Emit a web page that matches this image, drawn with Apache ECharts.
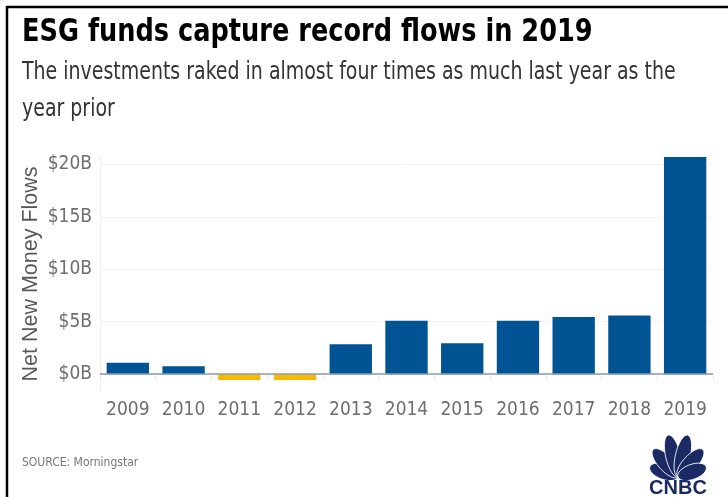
<!DOCTYPE html>
<html>
<head>
<meta charset="utf-8">
<script src="https://cdn.jsdelivr.net/npm/echarts@6/dist/echarts.min.js"></script>
<style>
html,body{margin:0;padding:0;background:#fff;}
#chart{width:728px;height:497px;}
</style>
</head>
<body>
<div id="chart"></div>
<script>
const categories = ['2009','2010','2011','2012','2013','2014','2015','2016','2017','2018','2019'];
const flowsB = [1.1, 0.75, -0.55, -0.55, 2.85, 5.1, 2.95, 5.1, 5.45, 5.6, 20.7];
const yTickValues = [0, 5, 10, 15, 20];
const titleText = 'ESG funds capture record flows in 2019';
const subtitleLines = ['The investments raked in almost four times as much last year as the', 'year prior'];
const yAxisName = 'Net New Money Flows';
const sourceText = 'SOURCE: Morningstar';
const logoText = 'CNBC';

const NARROW = "'DejaVu Sans Condensed', 'Liberation Sans Narrow', sans-serif";
const BLUE = '#015494';
const YELLOW = '#f6b800';
const NAVY = '#1c2a63';

const chart = echarts.init(document.getElementById('chart'));

// peacock feathers
const pivot = [678, 477];
const feathers = [
  {a: -70, len: 30}, {a: -42, len: 37}, {a: -13, len: 43},
  {a: 13, len: 43}, {a: 42, len: 37}, {a: 70, len: 30}
];
const feathersEls = feathers.map(f => {
  const rad = f.a * Math.PI / 180;
  const cx = pivot[0] + Math.sin(rad) * f.len / 2;
  const cy = pivot[1] - Math.cos(rad) * f.len / 2;
  return {
    type: 'ellipse',
    shape: {cx: 0, cy: 0, rx: 7.5, ry: f.len / 2},
    x: cx, y: cy,
    rotation: -rad,
    style: {fill: NAVY, stroke: '#fff', lineWidth: 0.8}
  };
});

chart.setOption({
  animation: false,
  grid: {left: 100, right: 15, top: 156, height: 236, containLabel: false},
  xAxis: {
    type: 'category',
    data: categories,
    axisLine: {show: true, lineStyle: {color: '#ececec', width: 1}},
    axisTick: {show: true, length: 5, lineStyle: {color: '#e4e4e4'}},
    axisLabel: {interval: 0, color: '#6e6e6e', fontFamily: NARROW, fontSize: 19, margin: 9}
  },
  yAxis: {
    type: 'value',
    min: -1.7,
    max: 20.8,
    name: yAxisName,
    nameLocation: 'middle',
    nameGap: 58,
    nameMoveOverlap: false,
    nameTextStyle: {color: '#5a5a5a', fontFamily: 'Liberation Sans, Arial, sans-serif', fontSize: 21.5},
    axisLine: {show: true, lineStyle: {color: '#f0f0f0'}},
    axisTick: {show: false, customValues: yTickValues},
    axisLabel: {
      customValues: yTickValues,
      color: '#6e6e6e', fontFamily: NARROW, fontSize: 19, margin: 8,
      formatter: v => '$' + v + 'B'
    },
    splitLine: {show: true, lineStyle: {color: '#f2f2f2', width: 1}}
  },
  series: [{
    type: 'bar',
    barCategoryGap: '24%',
    data: flowsB.map(v => ({value: v, itemStyle: {color: v < 0 ? YELLOW : BLUE}})),
    markLine: {
      silent: true,
      symbol: 'none',
      label: {show: false},
      lineStyle: {color: '#8b9bb1', width: 1.5, type: 'solid'},
      data: [{yAxis: 0}]
    }
  }],
  graphic: [
    {type: 'line', shape: {x1: 7, y1: 7, x2: 728, y2: 7}, style: {stroke: '#000', lineWidth: 2.5}},
    {type: 'line', shape: {x1: 7, y1: 6, x2: 7, y2: 497}, style: {stroke: '#000', lineWidth: 2.5}},
    {type: 'text', x: 22, y: 17, scaleX: 0.89, style: {text: titleText, fill: '#000', font: "bold 32px 'DejaVu Sans Condensed', sans-serif"}},
    {type: 'text', x: 22, y: 61, scaleX: 0.878, style: {text: subtitleLines[0], fill: '#333', font: "24px 'DejaVu Sans Condensed', sans-serif"}},
    {type: 'text', x: 22, y: 98, scaleX: 0.878, style: {text: subtitleLines[1], fill: '#333', font: "24px 'DejaVu Sans Condensed', sans-serif"}},
    {type: 'text', x: 22, y: 457, style: {text: sourceText, fill: '#777', font: "12px 'DejaVu Sans Condensed', sans-serif"}},
    ...feathersEls,
    {type: 'text', x: 678, y: 478, style: {text: logoText, fill: NAVY, align: 'center', verticalAlign: 'top', font: "bold 20px 'Liberation Sans', Arial, sans-serif"}}
  ]
});
</script>
</body>
</html>
